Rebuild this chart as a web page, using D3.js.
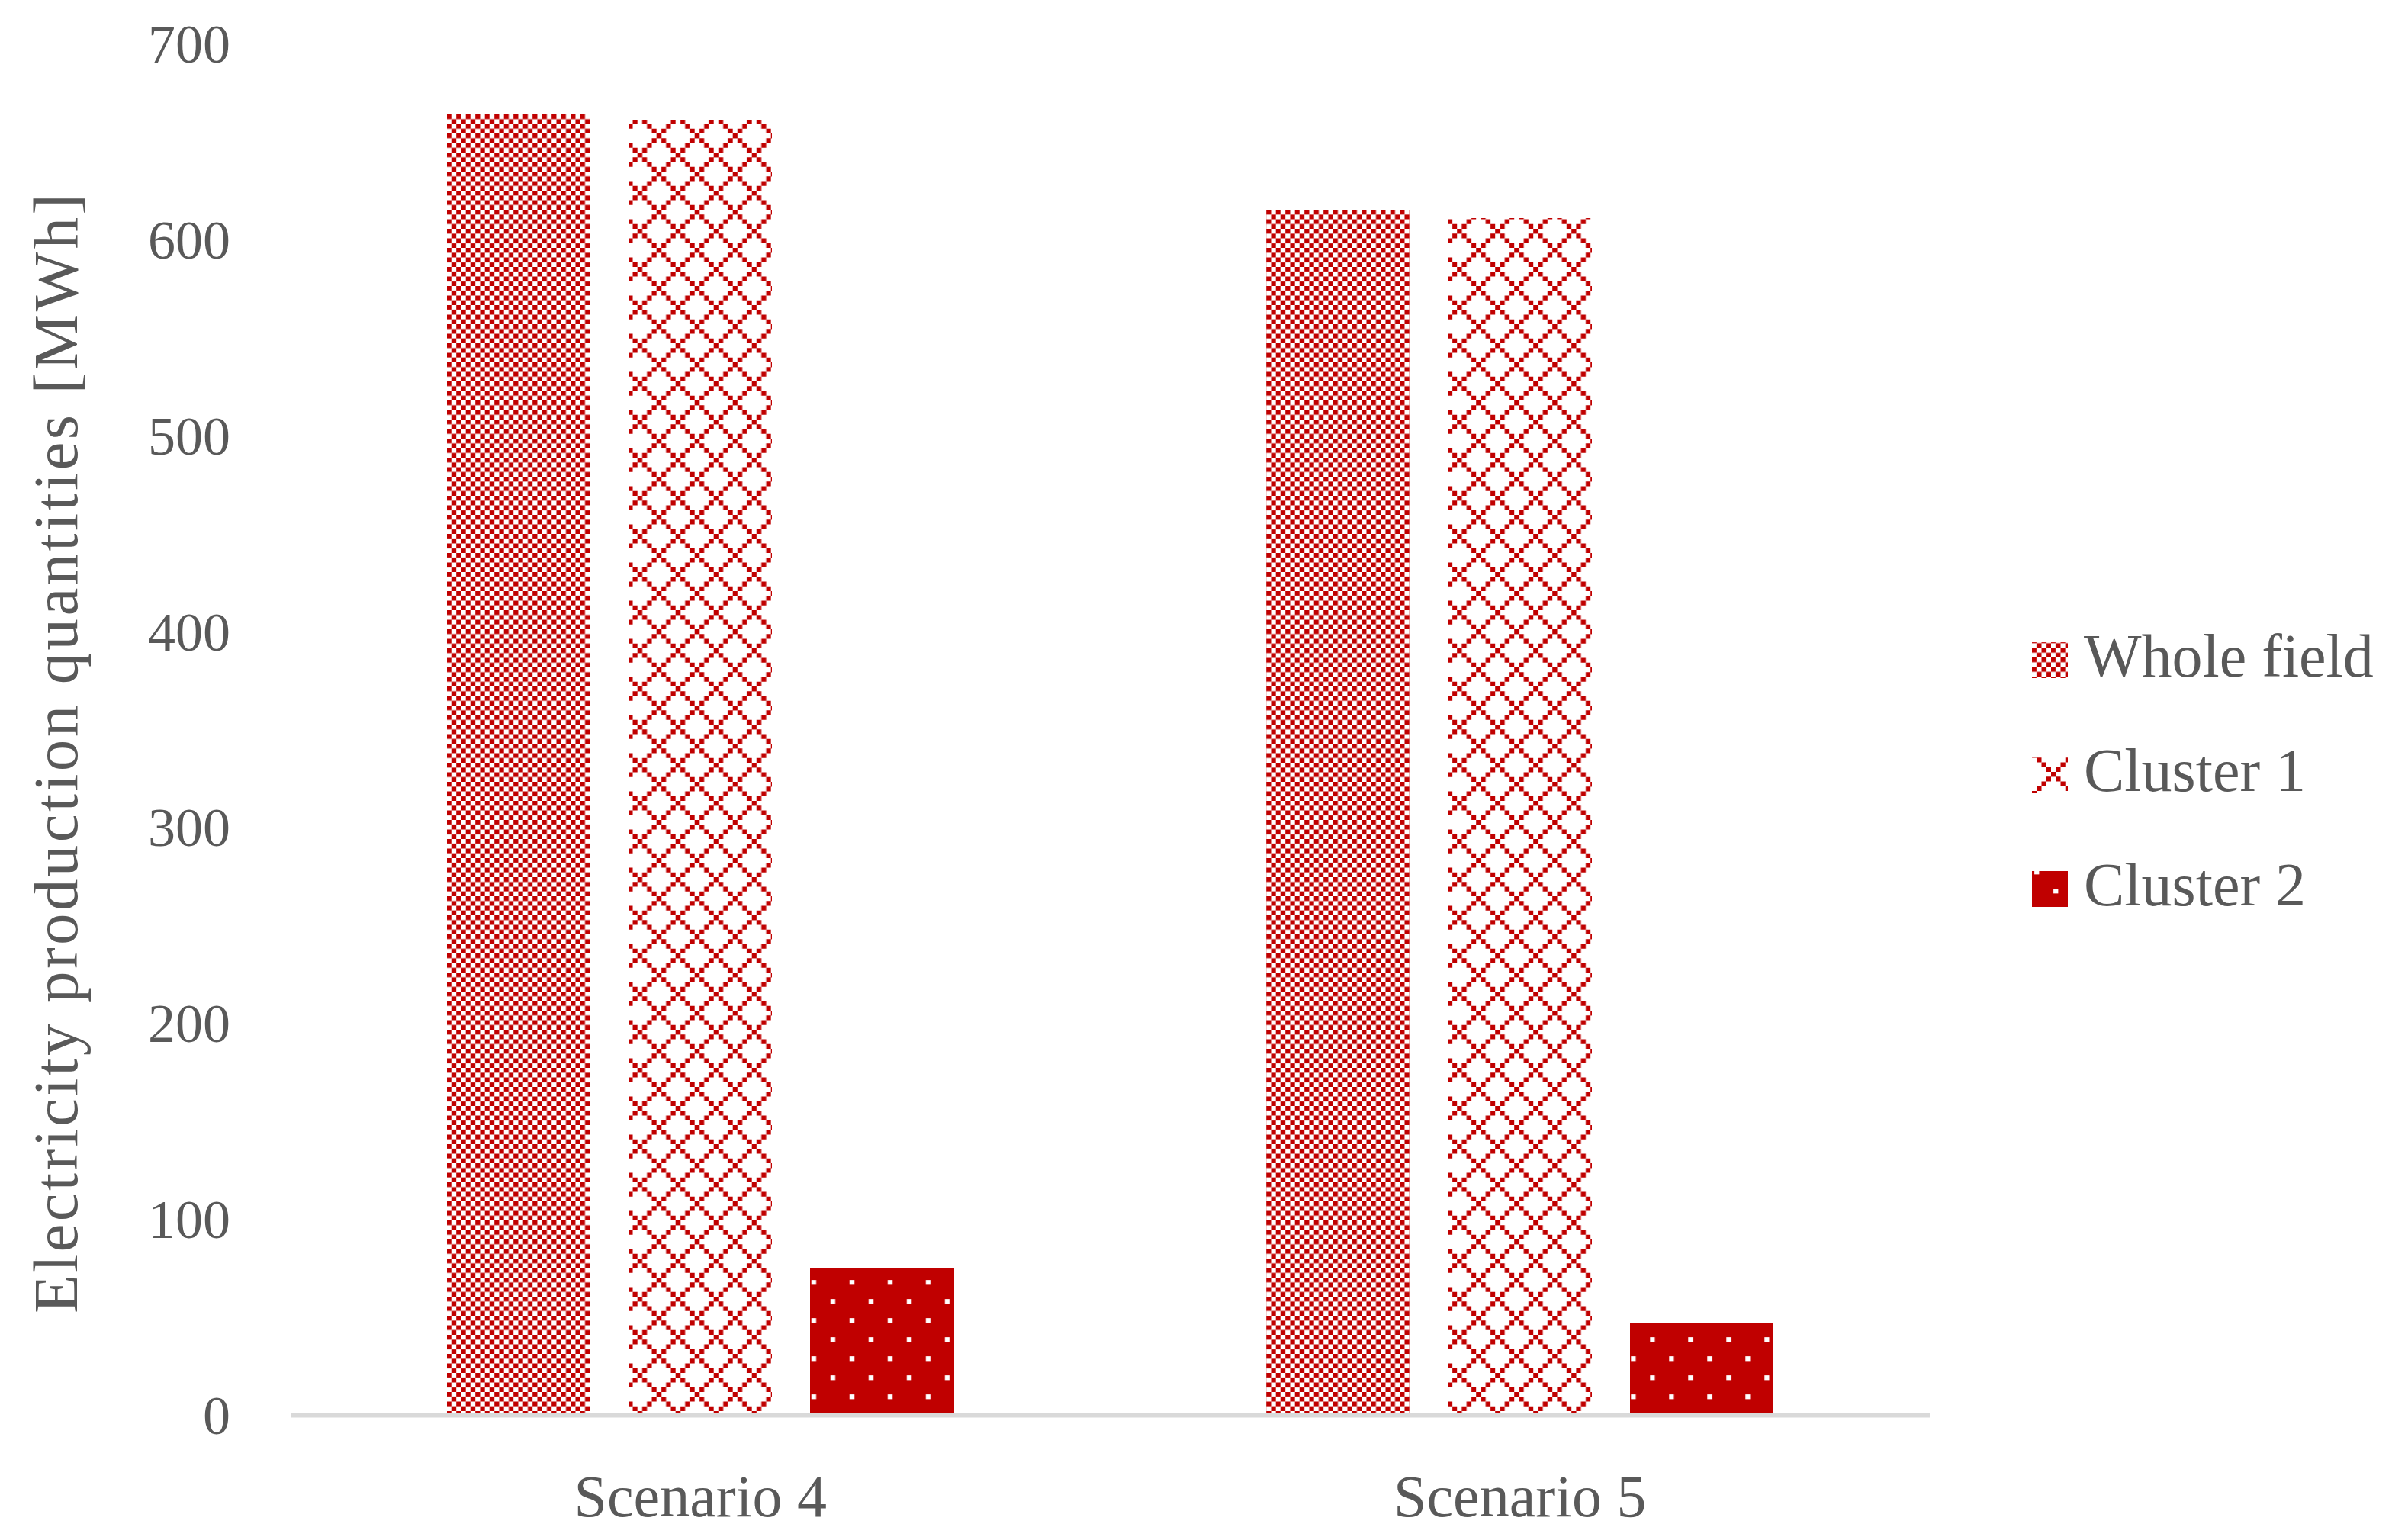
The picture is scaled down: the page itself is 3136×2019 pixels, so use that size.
<!DOCTYPE html>
<html>
<head>
<meta charset="utf-8">
<script src="https://cdn.jsdelivr.net/npm/d3@7"></script>
<style>
  html, body { margin: 0; padding: 0; background: #fff; }
  svg text { font-family: "Liberation Serif", "DejaVu Serif", serif; fill: #595959; }
</style>
</head>
<body>
<svg id="chart" width="3136" height="2019"></svg>
<script>
// ---- data ----
const categories = ["Scenario 4", "Scenario 5"];
const seriesNames = ["Whole field", "Cluster 1", "Cluster 2"];
const wholeField = [664, 615];
const cluster1 = [661, 611];
const cluster2 = [75, 47];
const yTicks = [0, 100, 200, 300, 400, 500, 600, 700];
const yTitle = "Electricity production quantities [MWh]";

const seriesValues = [wholeField, cluster1, cluster2];
const RED = "#C00000";

const svg = d3.select("#chart");
const defs = svg.append("defs");

// pattern: small checkerboard
const px = 6.25;
const pChk = defs.append("pattern").attr("id", "pat0").attr("patternUnits", "userSpaceOnUse")
  .attr("width", px * 2).attr("height", px * 2);
pChk.append("rect").attr("width", px * 2).attr("height", px * 2).attr("fill", "#fff");
pChk.append("rect").attr("x", 0).attr("y", 0).attr("width", px).attr("height", px).attr("fill", RED);
pChk.append("rect").attr("x", px).attr("y", px).attr("width", px).attr("height", px).attr("fill", RED);

// pattern: outlined diamond (diagonal cross lattice)
const pDia = defs.append("pattern").attr("id", "pat1").attr("patternUnits", "userSpaceOnUse")
  .attr("width", px * 8).attr("height", px * 8);
pDia.append("rect").attr("width", px * 8).attr("height", px * 8).attr("fill", "#fff");
d3.range(8).forEach(i => {
  pDia.append("rect").attr("x", i * px).attr("y", i * px).attr("width", px).attr("height", px).attr("fill", RED);
  pDia.append("rect").attr("x", ((8 - i) % 8) * px).attr("y", i * px).attr("width", px).attr("height", px).attr("fill", RED);
});

// pattern: dotted (white dots on red)
const pDot = defs.append("pattern").attr("id", "pat2").attr("patternUnits", "userSpaceOnUse")
  .attr("width", px * 8).attr("height", px * 8);
pDot.append("rect").attr("width", px * 8).attr("height", px * 8).attr("fill", RED);
pDot.append("rect").attr("x", px * 0.5).attr("y", px * 0.5).attr("width", px).attr("height", px).attr("fill", "#fff");
pDot.append("rect").attr("x", px * 4.5).attr("y", px * 4.5).attr("width", px).attr("height", px).attr("fill", "#fff");

const fills = ["url(#pat0)", "url(#pat1)", "url(#pat2)"];

// ---- scales ----
const x0 = d3.scaleBand().domain(categories).range([381, 2530]).paddingInner(0.381).paddingOuter(0.1905);
const x1 = d3.scaleBand().domain(seriesNames).range([0, x0.bandwidth()]).paddingInner(0.21).paddingOuter(0);
const y = d3.scaleLinear().domain([0, 700]).range([1855, 57]);

// ---- bars ----
const groups = svg.append("g").selectAll("g").data(categories).join("g")
  .attr("transform", d => `translate(${x0(d)},0)`);
groups.selectAll("rect")
  .data((c, ci) => seriesNames.map((s, si) => ({ s, si, v: seriesValues[si][ci] })))
  .join("rect")
  .attr("x", d => x1(d.s))
  .attr("y", d => y(d.v))
  .attr("width", x1.bandwidth())
  .attr("height", d => y(0) - y(d.v))
  .attr("fill", d => fills[d.si])
  .attr("shape-rendering", "crispEdges");

// ---- y axis (labels only) ----
const yAxis = d3.axisLeft(y).tickValues(yTicks).tickSize(0).tickPadding(0);
const gy = svg.append("g").attr("transform", "translate(302,0)").call(yAxis);
gy.select(".domain").remove();
gy.selectAll("text").attr("font-size", 72).attr("font-family", "Liberation Serif").attr("fill", "#595959").attr("dy", "0.34em");

// ---- x axis ----
svg.append("line").attr("x1", 381).attr("x2", 2530).attr("y1", y(0) + 0.5).attr("y2", y(0) + 0.5)
  .attr("stroke", "#d9d9d9").attr("stroke-width", 6);
const xAxis = d3.axisBottom(x0).tickSize(0).tickPadding(0);
const gx = svg.append("g").attr("transform", "translate(0,1988)").call(xAxis);
gx.select(".domain").remove();
gx.selectAll("text").attr("font-size", 78).attr("font-family", "Liberation Serif").attr("fill", "#595959").attr("dy", 0);

// ---- y title ----
svg.append("text")
  .attr("transform", "translate(101,988) rotate(-90)")
  .attr("text-anchor", "middle")
  .attr("font-size", 83)
  .attr("textLength", 1468)
  .attr("lengthAdjust", "spacing")
  .text(yTitle);

// ---- legend ----
const legend = svg.append("g").selectAll("g").data(seriesNames).join("g")
  .attr("transform", (d, i) => `translate(2664,${887 + i * 150})`);
legend.append("rect").attr("x", 0).attr("y", -45).attr("width", 47).attr("height", 47)
  .attr("fill", (d, i) => fills[i]).attr("shape-rendering", "crispEdges");
legend.append("text").attr("x", 68).attr("y", 0).attr("font-size", 80).text(d => d);
</script>
</body>
</html>
